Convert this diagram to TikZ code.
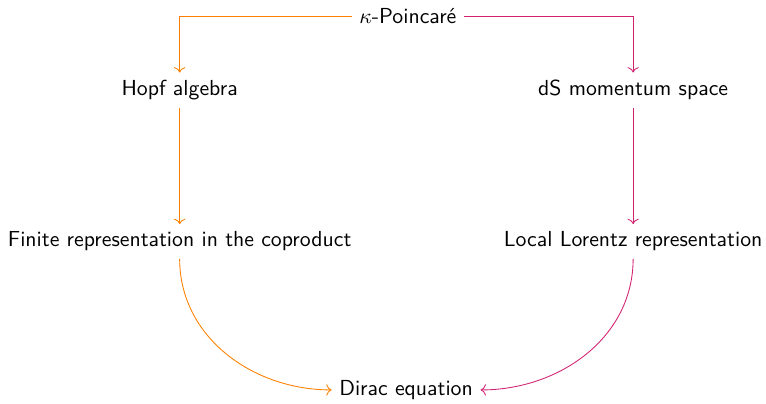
\documentclass[tikz,border=0pt]{standalone}
\usepackage{xcolor}
\usepackage{tikz}
\usetikzlibrary{arrows.meta, positioning}
\definecolor{rosa}{RGB}{210,35,115}

\begin{document}
\begin{tikzpicture}[
  scale=0.933,
  font=\sffamily,
  caixa/.style={align=center},
  setaL/.style={->, orange},
  setaR/.style={->, rosa}
]
\useasboundingbox (-7.06,0.28) rectangle (6.20,-6.70);

\node[caixa] (kp) at (0,0) {$\kappa$-Poincar\'e};

\node[caixa] (hopf) at (-3.95,-1.28) {Hopf algebra};
\node[caixa] (ds)   at (3.90,-1.28)  {dS momentum space};

\node[caixa] (fin)  at (-3.95,-3.90) {Finite representation in the coproduct};
\node[caixa] (llr)  at (3.90,-3.90)  {Local Lorentz representation};

\node[caixa] (dirac) at (-0.03,-6.47) {Dirac equation};

\draw[setaL] (kp.west) -| (hopf.north);
\draw[setaR] (kp.east) -| (ds.north);

\draw[setaL] (hopf) -- (fin);
\draw[setaR] (ds) -- (llr);

\draw[setaL] (fin.south) to[out=-90, in=180] (dirac.west);
\draw[setaR] (llr.south) to[out=-90, in=0] (dirac.east);

\end{tikzpicture}
\end{document}
